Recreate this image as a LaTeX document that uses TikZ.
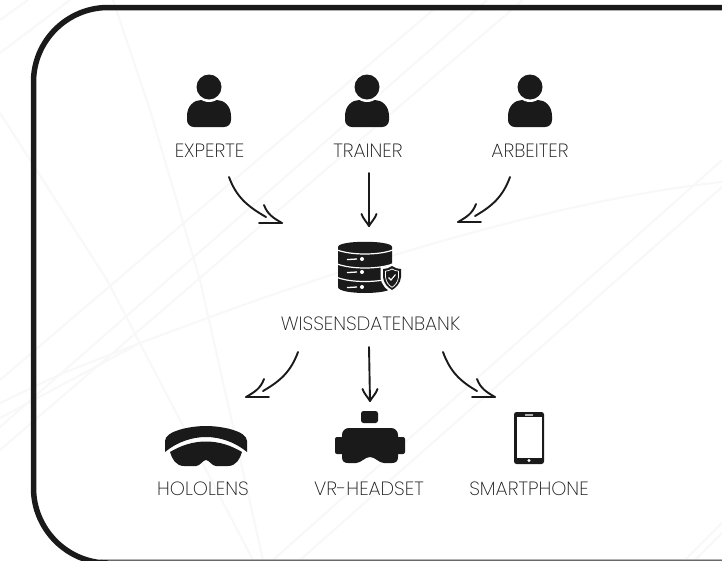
\documentclass[tikz,border=0pt]{standalone}
\usepackage{fontspec}
\setmainfont{Poppins}[UprightFont=* ExtraLight]
\definecolor{ink}{HTML}{1A1A1A}
\definecolor{faint}{HTML}{F8F8F8}
\definecolor{labelc}{HTML}{1A1A1A}
\definecolor{edge}{HTML}{B4B4B4}
\tikzset{
  x=1pt,y=-1pt,
  bgline/.style={faint,line width=2pt},
  frameline/.style={ink,line width=5.5pt},
  conn/.style={ink,line width=1.9pt,line cap=round},
  lab/.style={text=labelc,font=\fontsize{19.2}{20}\selectfont,inner sep=0pt,anchor=center},
  person/.pic={
    \fill[ink] (-22,29) .. controls (-22,19) and (-15,13) .. (-8,13) -- (8,13)
      .. controls (15,13) and (22,19) .. (22,29) -- (22,33)
      .. controls (22,37) and (19,40) .. (15,40) -- (-15,40)
      .. controls (-19,40) and (-22,37) .. (-22,33) -- cycle;
    \fill[white] (0,0) circle[radius=15];
    \fill[ink] (0,0) circle[radius=12.5];
  }
}
\newcommand\tipRight[1]{
  \draw[conn] ([shift={(-23,0)}]#1) -- (#1);
  \draw[conn] ([shift={(-18,-18)}]#1) to[out=-70,in=150] (#1);
}
\newcommand\tipLeft[1]{
  \draw[conn] ([shift={(23,0)}]#1) -- (#1);
  \draw[conn] ([shift={(18,-18)}]#1) to[out=-110,in=30] (#1);
}
\newcommand\tipDown[1]{
  \draw[conn] ([shift={(-7.5,-12)}]#1) to[out=-70,in=120] (#1);
  \draw[conn] ([shift={(7.5,-12)}]#1) to[out=-110,in=60] (#1);
}
\begin{document}
\begin{tikzpicture}
\useasboundingbox (0,0) rectangle (722,560);
\fill[white] (0,0) rectangle (722,560);
\clip (0,0) rectangle (722,560);
% faint background lines
\draw[bgline] (113,0) -- (150,110) -- (200,280) -- (263,560);
\draw[bgline] (0,113) -- (107,280) -- (253,560);
\draw[bgline] (722,182) .. controls (600,195) and (420,240) .. (210,317) -- (140,343) -- (63,373) -- (0,403);
\draw[bgline] (140,343) -- (0,418);
\draw[bgline] (433,10) -- (0,380);
\draw[bgline] (487,0) -- (0,427);
\draw[bgline] (523,0) -- (0,450);
\draw[bgline] (722,160) -- (273,560);
\draw[bgline] (722,187) -- (300,560);
\draw[bgline] (722,523) -- (685,560);
\draw[bgline] (722,533) -- (695,560);
\draw[bgline] (0,20) -- (28,0);
\draw[bgline] (0,53) -- (70,0);
% frame
\draw[edge,line width=1pt] (100,559.5) -- (722,559.5);
\draw[frameline] (730,7.5) -- (108,7.5) .. controls (67,7.5) and (33.5,41) .. (33.5,82) -- (33.5,488)
  .. controls (33.5,529) and (67,563) .. (108,563) -- (730,563);
% labels
\node[lab] (lexp) at (209.5,150.5) {EXPERTE};
\node[lab] (ltra) at (368,150.5) {TRAINER};
\node[lab] (larb) at (530,150.5) {ARBEITER};
\node[lab] (ldb)  at (370.5,323.5) {WISSENSDATENBANK};
\node[lab] (lhol) at (203,488.5) {HOLOLENS};
\node[lab] (lvr)  at (369,488.5) {VR-HEADSET};
\node[lab] (lsma) at (529,488.5) {SMARTPHONE};
% persons
\pic at (209,87) {person};
\pic at (367,87) {person};
\pic at (530,87) {person};
% database
\fill[ink] (338,247) .. controls (338,240) and (392,240) .. (392,247) -- (392,287)
  .. controls (392,295) and (338,295) .. (338,287) -- cycle;
\draw[white,line width=1.2pt] (336,249.5) .. controls (350,255.5) and (380,255.5) .. (394,249.5);
\draw[white,line width=1.2pt] (336,263.5) .. controls (350,269.5) and (380,269.5) .. (394,263.5);
\draw[white,line width=1.2pt] (336,277) .. controls (350,283) and (380,283) .. (394,277);
\foreach \yy in {259,272,287}{
  \draw[white,line width=1.3pt] (347,\yy+0.6) -- (357,\yy);
  \fill[white] (362,\yy) circle[radius=2];
}
\fill[white] (392,263.5) .. controls (388,266.5) and (384,267) .. (380.5,267) -- (380.5,277)
  .. controls (381,285) and (387,290) .. (392,293) .. controls (397,290) and (403,285) .. (403.5,277) -- (403.5,267)
  .. controls (400,267) and (396,266.5) .. (392,263.5) -- cycle;
\fill[ink] (392,266) .. controls (389,268) and (386,269) .. (383,269) -- (383,277)
  .. controls (383.5,283.5) and (388,287.5) .. (392,290) .. controls (396,287.5) and (400.5,283.5) .. (401,277) -- (401,269)
  .. controls (398,269) and (395,268) .. (392,266) -- cycle;
\draw[white,line width=0.7pt] (392,269) .. controls (390,270.2) and (388,271) .. (385.5,271.2) -- (385.5,277)
  .. controls (386,282) and (389,285.5) .. (392,287.3) .. controls (395,285.5) and (398,282) .. (398.5,277) -- (398.5,271.2)
  .. controls (396,271) and (394,270.2) .. (392,269) -- cycle;
\draw[white,line width=1.1pt] (388.5,277.5) -- (391,280) -- (395.5,274.5);
% hololens
\fill[ink] (165,452) -- (165,441) .. controls (165,431) and (190,426) .. (206,426)
  .. controls (222,426) and (247,431) .. (247,441) -- (247,452)
  .. controls (235,442) and (220,437) .. (206,437) .. controls (192,437) and (177,442) .. (165,452) -- cycle;
\fill[ink] (170,452) .. controls (180,446) and (192,441.5) .. (206,441.5)
  .. controls (220,441.5) and (232,446) .. (242,452)
  .. controls (240,459) and (236,466) .. (228,466) -- (216,466)
  .. controls (212,466) and (209,460) .. (206,460) .. controls (203,460) and (200,466) .. (196,466)
  -- (184,466) .. controls (176,466) and (172,459) .. (170,452) -- cycle;
% vr headset
\fill[ink,rounded corners=2.5pt] (361,411) rectangle (378,423);
\fill[ink,rounded corners=2pt] (335,437) rectangle (405,454);
\fill[ink] (349,428) -- (391,428) .. controls (395,428) and (398,431) .. (398,435) -- (398,457)
  .. controls (398,461) and (396,463) .. (392,463) -- (384,463)
  .. controls (379,463) and (375,457) .. (370,457) .. controls (365,457) and (361,463) .. (356,463) -- (348,463)
  .. controls (344,463) and (342,461) .. (342,457) -- (342,435) .. controls (342,431) and (345,428) .. (349,428) -- cycle;
% smartphone
\fill[ink,rounded corners=2.5pt] (514,412) rectangle (544,464);
\fill[white] (517,417) rectangle (541.5,458);
\fill[gray!60] (525,414.2) rectangle (533,415.6);
\fill[white] (529,460.5) circle[radius=1.6];
% connector ends
\coordinate (a1s) at (229,177); \coordinate (a1e) at (266,217); \coordinate (a1t) at (282,223);
\coordinate (a2s) at (369,173); \coordinate (a2t) at (369,226);
\coordinate (a3s) at (510,177); \coordinate (a3e) at (475,216); \coordinate (a3t) at (458,222);
\coordinate (a4s) at (298,352); \coordinate (a4e) at (263,391); \coordinate (a4t) at (246,397);
\coordinate (a5s) at (369,347); \coordinate (a5t) at (370,401);
\coordinate (a6s) at (443,352); \coordinate (a6e) at (477,391); \coordinate (a6t) at (495,397);
\draw[conn] (a1s) to[out=-70,in=150] (a1e); \tipRight{a1t}
\draw[conn] (a2s) -- (a2t); \tipDown{a2t}
\draw[conn] (a3s) to[out=-110,in=30] (a3e); \tipLeft{a3t}
\draw[conn] (a4s) to[out=-110,in=30] (a4e); \tipLeft{a4t}
\draw[conn] (a5s) -- (a5t); \tipDown{a5t}
\draw[conn] (a6s) to[out=-70,in=150] (a6e); \tipRight{a6t}
\end{tikzpicture}
\end{document}
